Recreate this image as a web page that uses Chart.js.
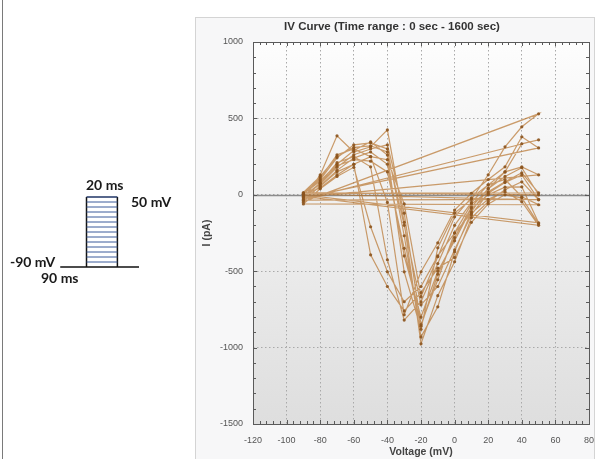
<!DOCTYPE html>
<html>
<head>
<meta charset="utf-8">
<script src="https://cdn.jsdelivr.net/npm/chart.js"></script>
<style>
  body { margin: 0; width: 595px; height: 459px; background: #fff; position: relative; overflow: hidden; }
  .edge { position: absolute; left: 2px; top: 0; width: 1px; height: 459px; background: #7a7a7a; }
  .panel { position: absolute; left: 195px; top: 17px; width: 398px; height: 450px; border: 1px solid #d4d4d4; background: #f7f7f8; }
  #ivChart { position: absolute; left: 195px; top: 17px; }
  #protocol { position: absolute; left: 0; top: 150px; }
  .lbl { position: absolute; font: bold 14px Lato, "Liberation Sans", sans-serif; line-height: 14px; color: #1a1a1a; white-space: nowrap; }
</style>
</head>
<body>
<div class="edge"></div>
<div class="panel"></div>
<canvas id="ivChart" width="400" height="442"></canvas>
<canvas id="protocol" width="190" height="140"></canvas>
<span class="lbl" style="left:86px; top:178px;">20 ms</span>
<span class="lbl" style="left:131px; top:195px;">50 mV</span>
<span class="lbl" style="left:10px; top:255px;">-90 mV</span>
<span class="lbl" style="left:41px; top:271px;">90 ms</span>
<script>
// step voltages (mV), one current (pA) per step in each sweep
const voltages = [-90, -80, -70, -60, -50, -40, -30, -20, -10, 0, 10, 20, 30, 40, 50];

const sweep1 = [0, 45, 130, 200, 250, 230, -60, -667, -405, -144, -20, 65, 150, 183, 131];
const sweep2 = [-15, 70, 180, 262, 300, 327, -120, -850, -556, -249, -60, 20, 85, 144, 13];
const sweep3 = [10, 100, 242, 327, 340, 300, -268, -930, -733, -373, -110, 40, 150, 334, 360];
const sweep4 = [-30, 130, 386, 280, 314, 425, -180, -975, -660, -438, -150, -46, 33, 85, -33];
const sweep5 = [5, 90, 200, 290, 347, 260, -504, -880, -347, -120, -30, 131, 314, 445, 530];
const sweep6 = [-45, 60, 160, 240, 280, 200, -400, -800, -500, -300, -90, 0, 50, 52, -183];
const sweep7 = [0, 110, 262, 300, 250, -50, -785, -504, -314, -100, 10, 100, 183, 380, 307];
const sweep8 = [-20, 80, 210, 250, 183, -425, -820, -700, -450, -200, -50, 65, 100, -13, -65];
const sweep9 = [-60, 40, 120, 180, -209, -504, -700, -600, -400, -250, -120, -30, 20, -45, -200];
const sweep10 = [-10, 75, 190, 230, 220, 150, -350, -860, -520, -280, -80, 40, 120, 177, 0];
const sweep11 = [15, 120, 250, 310, 320, 280, -200, -720, -600, -360, -130, 10, 80, 130, -30];
const sweep12 = [-35, 55, 150, 200, -393, -600, -760, -640, -480, -410, -180, -60, 0, -20, -190];

const sweeps = [sweep1, sweep2, sweep3, sweep4, sweep5, sweep6, sweep7, sweep8, sweep9, sweep10, sweep11, sweep12];

const xTicks = [-120, -100, -80, -60, -40, -20, 0, 20, 40, 60, 80];
const yTicks = [-1500, -1000, -500, 0, 500, 1000];

// pulse protocol (ms, mV)
const holdingV = -90;
const holdTimes = [73, 124];
const pulseTimes = [90, 110];
const stepLevels = [-80, -70, -60, -50, -40, -30, -20, -10, 0, 10, 20, 30, 40];
const pulseTopV = 50;

// all sweeps joined in time order, like the recorder draws them
const ivPoints = sweeps.flatMap((s) => s.map((y, i) => ({ x: voltages[i], y: y })));

const plotDecor = {
  id: "plotDecor",
  beforeDraw(chart) {
    const { ctx, chartArea: a } = chart;
    const g = ctx.createLinearGradient(0, a.top, 0, a.bottom);
    g.addColorStop(0, "#fdfdfd");
    g.addColorStop(1, "#dedede");
    ctx.save();
    ctx.fillStyle = g;
    ctx.fillRect(a.left, a.top, a.width, a.height);
    ctx.restore();
  },
  beforeDatasetsDraw(chart) {
    const { ctx, chartArea: a, scales } = chart;
    const y0 = Math.round(scales.y.getPixelForValue(0)) + 0.5;
    ctx.save();
    ctx.strokeStyle = "#8c8c8c";
    ctx.lineWidth = 1.5;
    ctx.beginPath();
    ctx.moveTo(a.left, y0);
    ctx.lineTo(a.right, y0);
    ctx.stroke();
    ctx.restore();
  },
  afterDatasetsDraw(chart) {
    const { ctx, chartArea: a, scales } = chart;
    ctx.save();
    ctx.strokeStyle = "#5a5a5a";
    ctx.lineWidth = 1;
    ctx.strokeRect(Math.round(a.left) + 0.5, Math.round(a.top) + 0.5, Math.round(a.width), Math.round(a.height));
    ctx.beginPath();
    for (let v = -120; v <= 80; v += 4) {
      const px = Math.round(scales.x.getPixelForValue(v)) + 0.5;
      const len = v % 20 === 0 ? 4 : 3;
      ctx.moveTo(px, a.bottom); ctx.lineTo(px, a.bottom - len);
      ctx.moveTo(px, a.top); ctx.lineTo(px, a.top + len);
    }
    for (let v = -1500; v <= 1000; v += 100) {
      const py = Math.round(scales.y.getPixelForValue(v)) + 0.5;
      const len = v % 500 === 0 ? 4 : 3;
      ctx.moveTo(a.left, py); ctx.lineTo(a.left + len, py);
      ctx.moveTo(a.right, py); ctx.lineTo(a.right - len, py);
    }
    ctx.stroke();
    ctx.restore();
  },
};

const tickFont = { family: "'Liberation Sans', Arial, sans-serif", size: 9 };
const boldFont = { family: "'Liberation Sans', Arial, sans-serif", size: 10.5, weight: "bold" };

new Chart(document.getElementById("ivChart"), {
  type: "scatter",
  data: {
    datasets: [
      {
        label: "IV",
        data: ivPoints,
        showLine: true,
        tension: 0,
        borderColor: "rgba(182, 112, 40, 0.68)",
        borderWidth: 1.2,
        pointRadius: 1.6,
        pointBackgroundColor: "rgba(140, 84, 30, 0.9)",
        pointBorderWidth: 0,
      },
    ],
  },
  options: {
    responsive: false,
    animation: false,
    devicePixelRatio: 1,
    layout: { padding: { left: 0, right: 6, top: 0, bottom: 0 } },
    plugins: {
      legend: { display: false },
      tooltip: { enabled: false },
      title: {
        display: true,
        text: "IV Curve (Time range : 0 sec - 1600 sec)",
        color: "#333",
        font: { family: "'Liberation Sans', Arial, sans-serif", size: 11.5, weight: "bold", lineHeight: 1.2 },
        padding: { top: 2.5, bottom: 8.7 },
      },
    },
    scales: {
      x: {
        type: "linear",
        min: -120,
        max: 80,
        afterBuildTicks: (scale) => { scale.ticks = xTicks.map((v) => ({ value: v })); },
        afterFit: (scale) => { scale.height = 35; scale.paddingLeft = 0; scale.paddingRight = 0; },
        ticks: { color: "#555", font: tickFont, padding: 11, maxRotation: 0, callback: (v) => String(v) },
        grid: { color: "#a9a9a9", lineWidth: 1, drawTicks: false },
        border: { display: false, dash: [1.5, 2.5] },
        title: { display: true, text: "Voltage (mV)", color: "#444", font: boldFont, padding: { top: 0, bottom: 0.5 } },
      },
      y: {
        type: "linear",
        min: -1500,
        max: 1000,
        afterBuildTicks: (scale) => { scale.ticks = yTicks.map((v) => ({ value: v })); },
        afterFit: (scale) => { scale.width = 58; scale.paddingTop = 0; scale.paddingBottom = 0; },
        ticks: { color: "#555", font: tickFont, padding: 10, callback: (v) => String(v) },
        grid: { color: "#a9a9a9", lineWidth: 1, drawTicks: false },
        border: { display: false, dash: [1.5, 2.5] },
        title: { display: true, text: "I (pA)", color: "#444", font: boldFont, padding: { top: 5.7, bottom: 0 } },
      },
    },
  },
  plugins: [plotDecor],
});

// voltage protocol sketch
const seg = (x1, y1, x2, y2) => [{ x: x1, y: y1 }, { x: x2, y: y2 }];
const protoLine = (data, color, width) => ({
  data: data, showLine: true, borderColor: color, borderWidth: width, pointRadius: 0, tension: 0,
});

const protoSets = [
  ...stepLevels.map((v) => protoLine(seg(pulseTimes[0], v, pulseTimes[1], v), "#3b5b9a", 1)),
  protoLine(seg(pulseTimes[0], pulseTopV, pulseTimes[1], pulseTopV), "#1f3566", 1.5),
  protoLine(seg(holdTimes[0], holdingV, holdTimes[1], holdingV), "#111", 1.5),
  protoLine(seg(pulseTimes[0], holdingV, pulseTimes[0], pulseTopV), "#111", 1.5),
  protoLine(seg(pulseTimes[1], holdingV, pulseTimes[1], pulseTopV), "#111", 1.5),
];

new Chart(document.getElementById("protocol"), {
  type: "scatter",
  data: { datasets: protoSets },
  options: {
    responsive: false,
    animation: false,
    devicePixelRatio: 1,
    layout: { padding: 0 },
    plugins: { legend: { display: false }, tooltip: { enabled: false } },
    scales: {
      x: { type: "linear", display: false, min: 34, max: 157 },
      y: { type: "linear", display: false, min: -136, max: 144 },
    },
  },
});
</script>
</body>
</html>
